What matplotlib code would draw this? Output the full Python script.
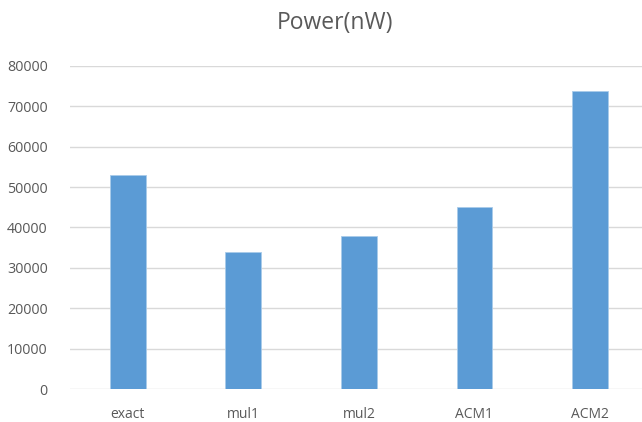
import matplotlib.pyplot as plt

categories = ["exact", "mul1", "mul2", "ACM1", "ACM2"]
power_nw = [53100, 34000, 37800, 45100, 73800]
y_ticks = [0, 10000, 20000, 30000, 40000, 50000, 60000, 70000, 80000]

plt.rcParams['font.family'] = ['Open Sans', 'DejaVu Sans']

fig = plt.figure(figsize=(6.42, 4.22), dpi=100)
ax = fig.add_axes([0.109, 0.078, 0.9, 0.766])

x = range(len(categories))
ax.bar(x, power_nw, width=0.31, color="#5B9BD5", edgecolor="#A9CBEA", linewidth=0.6, zorder=3)

ax.set_xlim(-0.5, len(categories) - 0.5)
ax.set_ylim(0, 80000)
ax.set_yticks(y_ticks)
ax.set_yticklabels([str(v) for v in y_ticks])
ax.set_xticks(list(x))
ax.set_xticklabels(categories)

ax.grid(axis="y", color="#D9D9D9", linewidth=1.0, zorder=0)
for side in ["top", "right", "left", "bottom"]:
    ax.spines[side].set_visible(False)
ax.tick_params(axis="both", length=0, colors="#595959", labelsize=10.3)
ax.tick_params(axis="y", pad=16)
ax.tick_params(axis="x", pad=13, labelsize=10)

fig.text(0.522, 0.945, "Power(nW)", ha="center", va="center", fontsize=16.5, color="#595959")

fig.savefig("out.png", dpi=100)
